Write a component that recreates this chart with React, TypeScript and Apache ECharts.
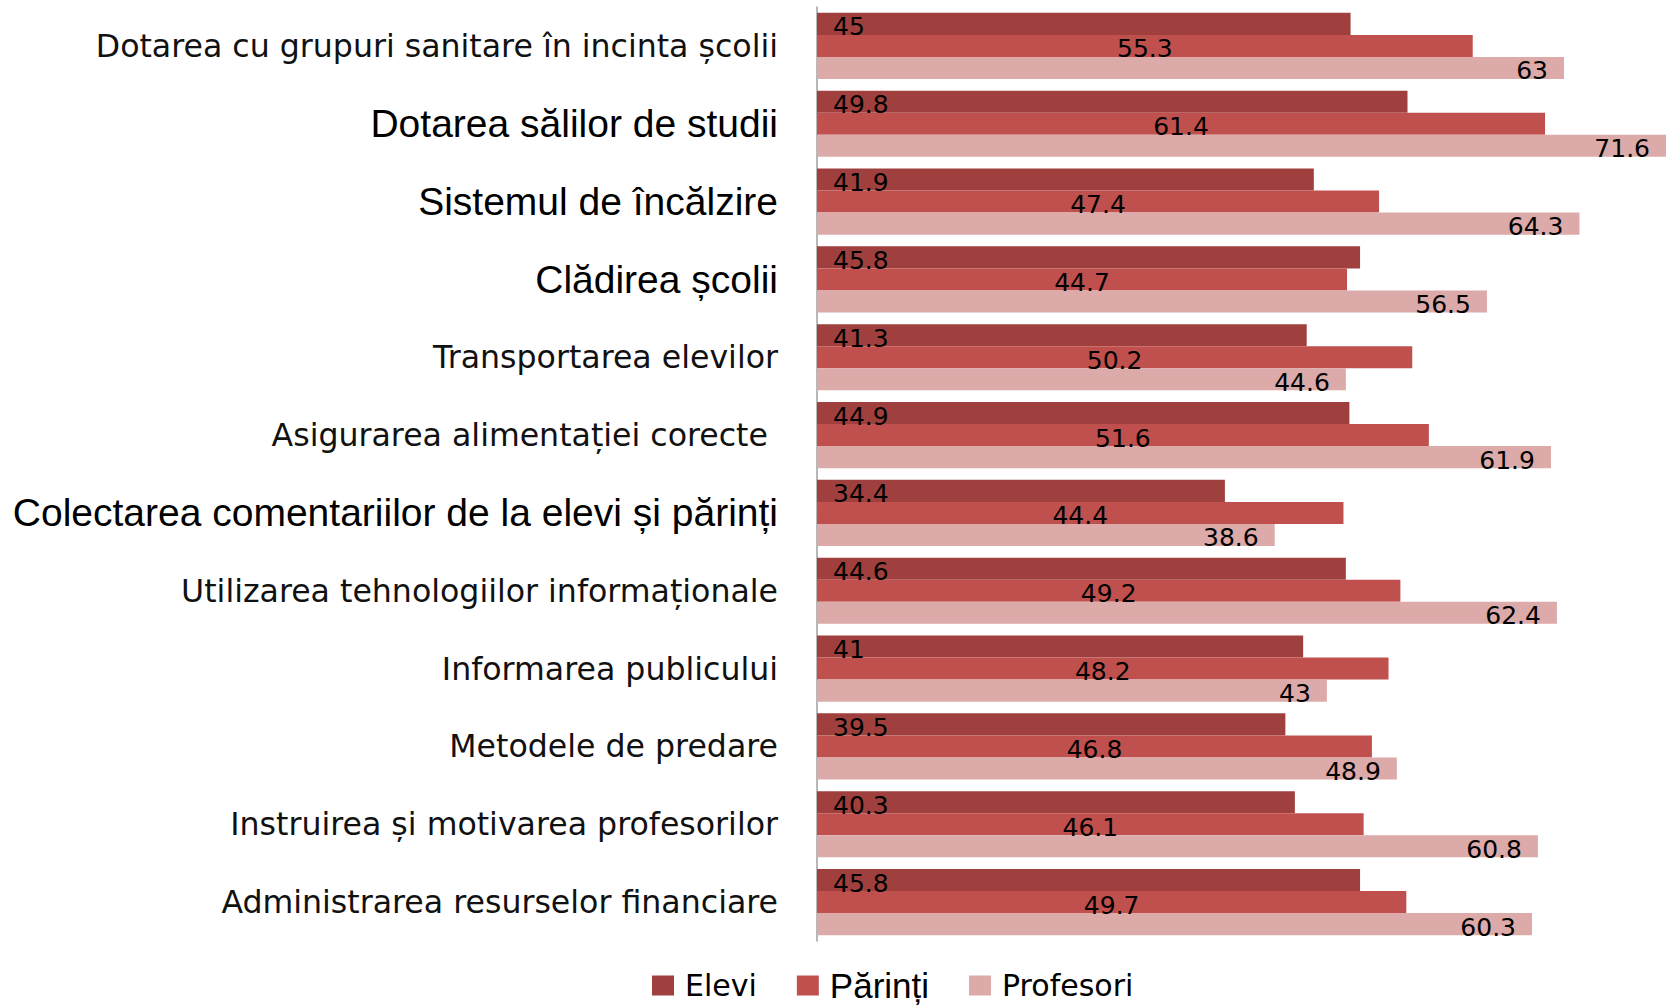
import React, { useEffect, useRef } from "react";
import * as echarts from "echarts";

const categories: string[] = [
  "Dotarea cu grupuri sanitare în incinta școlii",
  "Dotarea sălilor de studii",
  "Sistemul de încălzire",
  "Clădirea școlii",
  "Transportarea elevilor",
  "Asigurarea alimentației corecte ",
  "Colectarea comentariilor de la elevi și părinți",
  "Utilizarea tehnologiilor informaționale",
  "Informarea publicului",
  "Metodele de predare",
  "Instruirea și motivarea profesorilor",
  "Administrarea resurselor financiare",
];
// categories whose label is set in the Arial-like face
const arialLabels: number[] = [1, 2, 3, 6];

const seriesNames: string[] = ["Elevi", "Părinți", "Profesori"];
const elevi: number[] = [45, 49.8, 41.9, 45.8, 41.3, 44.9, 34.4, 44.6, 41, 39.5, 40.3, 45.8];
const parinti: number[] = [55.3, 61.4, 47.4, 44.7, 50.2, 51.6, 44.4, 49.2, 48.2, 46.8, 46.1, 49.7];
const profesori: number[] = [63, 71.6, 64.3, 56.5, 44.6, 61.9, 38.6, 62.4, 43, 48.9, 60.8, 60.3];

const colors = ["#9F403E", "#C0504D", "#DBAAA9"];

export default function App() {
  const ref = useRef<HTMLDivElement>(null);
  useEffect(() => {
    if (!ref.current) return;
    const chart = echarts.init(ref.current, undefined, { renderer: "svg" });
    const numLabel = {
      show: true,
      color: "#000",
      fontFamily: "DejaVu Sans",
      fontSize: 25,
      offset: [0, 3],
    };
    chart.setOption({
      animation: false,
      backgroundColor: "#fff",
      grid: { left: 817, top: 7, right: 0, bottom: 65, containLabel: false },
      xAxis: {
        type: "value",
        min: 0,
        max: 71.6,
        show: false,
        splitLine: { show: false },
      },
      yAxis: {
        type: "category",
        inverse: true,
        data: categories,
        axisLine: { show: true, lineStyle: { color: "#A0A0A0", width: 1.5 } },
        axisTick: { show: false },
        splitLine: { show: false },
        axisLabel: {
          interval: 0,
          margin: 39,
          formatter: (value: string, index: number) =>
            arialLabels.includes(index) ? `{b|${value}}` : `{a|${value}}`,
          rich: {
            a: { fontFamily: "DejaVu Sans", fontSize: 31.6, color: "#111" },
            b: { fontFamily: "Liberation Sans", fontSize: 39, color: "#000" },
          },
        },
      },
      legend: {
        data: seriesNames,
        left: 652,
        top: 968,
        padding: 0,
        icon: "rect",
        itemWidth: 22,
        itemHeight: 20,
        itemGap: 40,
        formatter: (name: string) => (name === "Părinți" ? `{b|${name}}` : `{a|${name}}`),
        textStyle: {
          rich: {
            a: { fontFamily: "DejaVu Sans", fontSize: 30, color: "#000", lineHeight: 36, padding: [0, 0, 0, 6] },
            b: { fontFamily: "Liberation Sans", fontSize: 35, color: "#000", lineHeight: 36, padding: [0, 0, 0, 6] },
          },
        },
      },
      series: [
        {
          name: seriesNames[0],
          type: "bar",
          data: elevi,
          barGap: "0%",
          barCategoryGap: "15%",
          itemStyle: { color: colors[0] },
          label: { ...numLabel, position: "insideLeft", distance: 16 },
        },
        {
          name: seriesNames[1],
          type: "bar",
          data: parinti,
          barGap: "0%",
          barCategoryGap: "15%",
          itemStyle: { color: colors[1] },
          label: { ...numLabel, position: "inside" },
        },
        {
          name: seriesNames[2],
          type: "bar",
          data: profesori,
          barGap: "0%",
          barCategoryGap: "15%",
          itemStyle: { color: colors[2] },
          label: { ...numLabel, position: "insideRight", distance: 16 },
        },
      ],
    });
    return () => chart.dispose();
  }, []);
  return (
    <div
      ref={ref}
      style={{ position: "absolute", left: 0, top: 0, width: 1666, height: 1006 }}
    />
  );
}
